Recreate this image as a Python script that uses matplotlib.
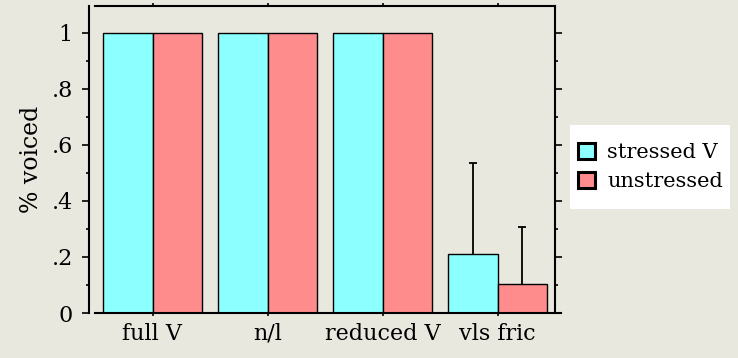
import matplotlib.pyplot as plt
import matplotlib.patches as mpatches
import numpy as np

categories = ["full V", "n/l", "reduced V", "vls fric"]
stressed = [1.0, 1.0, 1.0, 0.21]
unstressed = [1.0, 1.0, 1.0, 0.104]
stressed_err = [0.0, 0.0, 0.0, 0.325]
unstressed_err = [0.0, 0.0, 0.0, 0.203]
series_names = ["stressed V", "unstressed"]
yticks = [0, 0.2, 0.4, 0.6, 0.8, 1.0]
yticklabels = ["0", ".2", ".4", ".6", ".8", "1"]

BG = "#e9e8df"
CYAN = "#8cffff"
PINK = "#ff8c8c"

plt.rcParams["font.family"] = ["DejaVu Serif"]

W, H = 738, 358
fig = plt.figure(figsize=(W / 100, H / 100), dpi=100, facecolor=BG)
# axes in pixel coords: x 95..555, y 6..313 (from top)
ax = fig.add_axes([95 / W, 1 - 313 / H, 460 / W, 307 / H])
ax.set_facecolor(BG)

x = np.arange(len(categories))
bw = 0.433
ax.bar(x - bw / 2, stressed, bw, color=CYAN, edgecolor="black", linewidth=1.0, zorder=2)
ax.bar(x + bw / 2, unstressed, bw, color=PINK, edgecolor="black", linewidth=1.0, zorder=2)

# upper error bars only (vls fric)
for xs, vals, errs in [(x - bw / 2, stressed, stressed_err), (x + bw / 2, unstressed, unstressed_err)]:
    for xi, v, e in zip(xs, vals, errs):
        if e > 0:
            ax.vlines(xi, v, v + e, color="black", linewidth=1.3, zorder=3)
            ax.plot([xi], [v + e], marker="_", markersize=6, markeredgewidth=1.3,
                    color="black", zorder=3)

ax.set_xlim(-0.5, 3.5)
ax.set_ylim(0, 1.096)

ax.set_yticks(yticks)
ax.set_yticklabels(yticklabels)
ax.set_yticks([0.1, 0.3, 0.5, 0.7, 0.9], minor=True)
ax.set_xticks(x)
ax.set_xticklabels(categories)

ax.tick_params(axis="y", which="major", direction="out", length=5, width=1.2,
               pad=7, left=True, right=True, labelsize=16)
ax.tick_params(axis="y", which="minor", direction="out", length=2.5, width=1.2,
               left=True, right=True)
ax.tick_params(axis="x", which="major", direction="out", length=2, width=1.2,
               pad=5, top=True, bottom=True, labelsize=16)

for s in ax.spines.values():
    s.set_linewidth(1.5)
ax.spines["left"].set_position(("outward", 4))
ax.spines["bottom"].set_bounds(-0.5, 3.55)

ax.set_ylabel("% voiced", fontsize=17, labelpad=6)

# white legend box
fig.patches.append(mpatches.Rectangle((570 / W, 1 - 209 / H), 160 / W, 84 / H,
                                      transform=fig.transFigure, facecolor="white",
                                      edgecolor="none", zorder=0))
handles = [mpatches.Patch(facecolor=CYAN, edgecolor="black", linewidth=2.2),
           mpatches.Patch(facecolor=PINK, edgecolor="black", linewidth=2.2)]
leg = fig.legend(handles, series_names, loc="center left",
                 bbox_to_anchor=(572 / W, 1 - 167 / H), fontsize=15,
                 frameon=False, handlelength=0.8, handleheight=0.8,
                 handletextpad=0.6, labelspacing=0.45, borderpad=0.3,
                 borderaxespad=0)

fig.savefig("out.png", dpi=100, facecolor=BG)
